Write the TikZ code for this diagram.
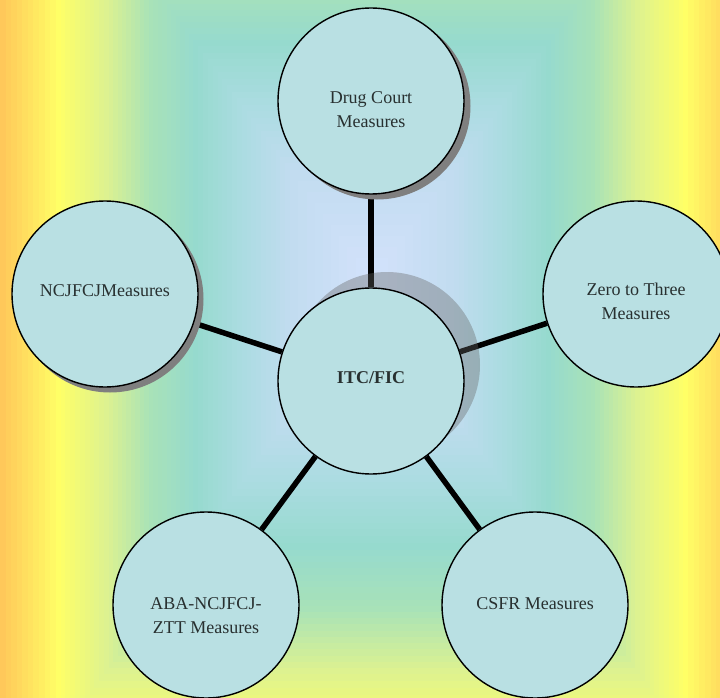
\documentclass[tikz,border=0pt]{standalone}
\usepackage{fontspec}
\setmainfont{Liberation Serif}
\usetikzlibrary{calc}
\pgfdeclarelayer{bglayer}
\pgfdeclarelayer{linelayer}
\pgfdeclarelayer{shadlayer}
\pgfsetlayers{bglayer,linelayer,shadlayer,main}
\definecolor{gA}{HTML}{FFC85A}
\definecolor{gB}{HTML}{FFFF66}
\definecolor{gC}{HTML}{DDF290}
\definecolor{gD}{HTML}{A8E2B8}
\definecolor{gE}{HTML}{96DACE}
\definecolor{gF}{HTML}{ACDCE2}
\definecolor{gG}{HTML}{C2DCF0}
\definecolor{gH}{HTML}{D4E2FC}
\definecolor{bubblefill}{HTML}{B9E0E3}
\definecolor{textc}{HTML}{283030}
\definecolor{shadowc}{HTML}{7F7F7F}
\newcommand\bgband[4]{%
  \foreach \k in {0,...,9}{%
    \pgfmathsetmacro\bgt{#1-(#1-#2)*\k/10}%
    \pgfmathtruncatemacro\bgp{10*\k}%
    \fill[#4!\bgp!#3] ({372-372*\bgt},{280-500*\bgt}) rectangle ({372+372*\bgt},{300+520*\bgt});
  }}
\begin{document}
\begin{tikzpicture}[x=1pt,y=-1pt,
  bubble/.style={circle,draw=black,line width=1.4pt,fill=bubblefill,minimum size=186pt,inner sep=0pt},
  lbl/.style={font=\fontsize{18}{24}\selectfont,text=textc,align=center,anchor=north,inner sep=0pt},
  conn/.style={line width=5.5pt,draw=black},
  outshadow/.style={fill=shadowc},
  ctrshadow/.style={fill=black!60,opacity=0.38}]
\useasboundingbox (0,0) rectangle (720,698);
\begin{pgfonlayer}{bglayer}
  \begin{scope}
    \clip (0,0) rectangle (720,698);
    \bgband{1.00}{0.85}{gA}{gB}
    \bgband{0.85}{0.72}{gB}{gC}
    \bgband{0.72}{0.60}{gC}{gD}
    \bgband{0.60}{0.48}{gD}{gE}
    \bgband{0.48}{0.35}{gE}{gF}
    \bgband{0.35}{0.22}{gF}{gG}
    \bgband{0.22}{0.00}{gG}{gH}
  \end{scope}
\end{pgfonlayer}
% circles
\node[bubble] (ctr)  at (371,381) {};
\node[bubble] (drug) at (371,101) {};
\node[bubble] (ncj)  at (105,294) {};
\node[bubble] (zero) at (636,294) {};
\node[bubble] (aba)  at (206,605) {};
\node[bubble] (csfr) at (535,605) {};
% labels
\node[lbl] (ctrl)  at ($(ctr)+(0,-9.5)$)  {\bfseries ITC/FIC};
\node[lbl] (drugl) at ($(drug)+(0,-9.5)$) {Drug Court\\Measures};
\node[lbl] (ncjl)  at ($(ncj)+(0,-9.5)$)  {NCJFCJMeasures};
\node[lbl] (zerol) at ($(zero)+(0,-11.5)$) {Zero to Three\\Measures};
\node[lbl] (abal)  at ($(aba)+(0,-7.5)$)  {ABA-NCJFCJ-\\ZTT Measures};
\node[lbl] (csfrl) at ($(csfr)+(0,-7.5)$) {CSFR Measures};
% connectors
\begin{pgfonlayer}{linelayer}
  \draw[conn] (ctr) -- (drug);
  \draw[conn] (ctr) -- (ncj);
  \draw[conn] (ctr) -- (zero);
  \draw[conn] (ctr) -- (aba);
  \draw[conn] (ctr) -- (csfr);
\end{pgfonlayer}
% shadows
\begin{pgfonlayer}{shadlayer}
  \fill[outshadow] ($(drug)+(6,5)$) circle[radius=93.5pt];
  \fill[outshadow] ($(ncj)+(5,5)$) circle[radius=93.5pt];
  \fill[ctrshadow] ($(ctr)+(16,-16)$) circle[radius=93pt];
\end{pgfonlayer}
\end{tikzpicture}
\end{document}
